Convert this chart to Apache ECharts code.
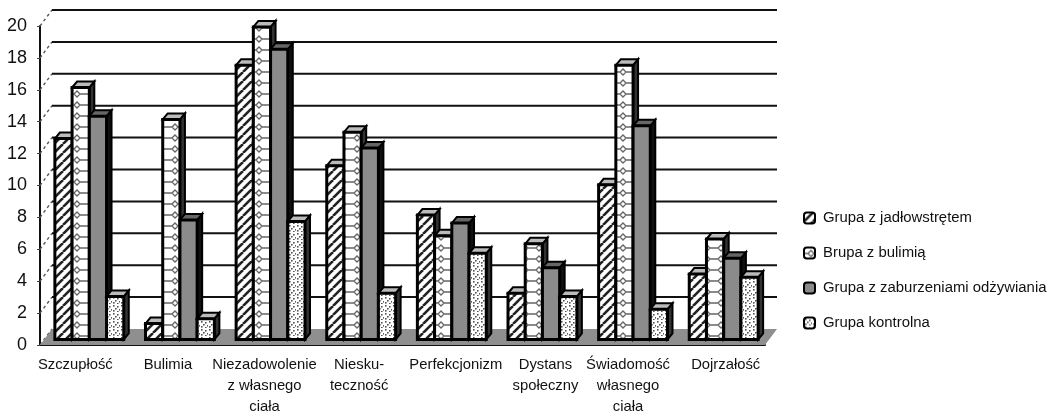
<!DOCTYPE html>
<html><head><meta charset="utf-8">
<style>html,body{margin:0;padding:0;background:#fff}#c{width:1054px;height:412px}</style>
<script src="https://cdn.jsdelivr.net/npm/echarts@6/dist/echarts.min.js"></script>
</head><body><div id="c"></div>
<script>
const categories = ['Szczupłość','Bulimia','Niezadowolenie\nz własnego\nciała','Niesku-\nteczność','Perfekcjonizm','Dystans\nspołeczny','Świadomość\nwłasnego\nciała','Dojrzałość'];
const labelShift = [-10,-8,-2,2,8,7,-1,6];
const seriesNames = ['Grupa z jadłowstrętem','Brupa z bulimią','Grupa z zaburzeniami odżywiania','Grupa kontrolna'];
const anorexia = [12.6,1.0,17.2,10.9,7.8,2.9,9.7,4.1];
const bulimia  = [15.8,13.8,19.6,13.0,6.5,6.0,17.2,6.3];
const eating   = [14.0,7.5,18.2,12.0,7.3,4.5,13.4,5.1];
const control  = [2.7,1.3,7.4,2.9,5.4,2.7,1.9,3.9];
const yTicks = [0,2,4,6,8,10,12,14,16,18,20];

function pat(w,h,draw){const c=document.createElement('canvas');c.width=w;c.height=h;const g=c.getContext('2d');g.fillStyle='#fff';g.fillRect(0,0,w,h);draw(g);return {image:c,repeat:'repeat'};}
const pStripe = pat(9,9,g=>{g.strokeStyle='#222';g.lineWidth=2.6;for(let i=-9;i<=18;i+=9){g.beginPath();g.moveTo(i,9);g.lineTo(i+9,0);g.stroke();}});
const pChain = pat(14,11,g=>{g.strokeStyle='#666';g.lineWidth=1.3;g.beginPath();g.moveTo(0,6);g.lineTo(4,6);g.lineTo(7,3);g.lineTo(10,6);g.lineTo(14,6);g.moveTo(4,6);g.lineTo(7,9);g.lineTo(10,6);g.stroke();});
const pDots = pat(8,8,g=>{g.fillStyle='#555';[[1,1],[5,2],[3,4],[7,5],[1,6],[5,7]].forEach(p=>g.fillRect(p[0],p[1],1.6,1.6));});
const fills = [pStripe,pChain,'#8b8b8b',pDots];
const DX=12, DY=-16, BX=4, BY=-5.5, BW=5, BH=-6;

function bar(k){return function(params,api){
  const i=api.value(0), v=api.value(1), band=api.size([1,0])[0];
  const w=band*0.19;
  const top=api.coord([i,v]), base=api.coord([i,0]);
  const x=top[0]+BX+(k-2)*w, y=top[1]+BY, b=base[1]+BY;
  return {type:'group',children:[
    {type:'polygon',shape:{points:[[x+w,y],[x+w+BW,y+BH],[x+w+BW,b+BH],[x+w,b]]},style:{fill:k===2?'#111':'#333',stroke:'#000',lineWidth:2}},
    {type:'polygon',shape:{points:[[x,y],[x+BW,y+BH],[x+w+BW,y+BH],[x+w,y]]},style:{fill:k===2?'#666':'#bbb',stroke:'#000',lineWidth:2}},
    {type:'rect',shape:{x:x,y:y,width:w,height:b-y},style:{fill:fills[k],stroke:'#000',lineWidth:3}}
  ]};
};}

const wall={type:'custom',name:'wall',silent:true,z:1,data:yTicks.map(v=>[v]),encode:{y:0},
  renderItem(params,api){
    const v=api.value(0), p=api.coord([0,v]), band=api.size([1,0])[0];
    const x0=p[0]-band/2, x1=x0+band*8;
    const kids=[{type:'line',shape:{x1:x0,y1:p[1],x2:x0+DX,y2:p[1]+DY},style:{stroke:'#555',lineWidth:1.4,lineDash:[3,3]}}];
    if(v===0){kids.push({type:'polygon',shape:{points:[[x0,p[1]],[x0+DX,p[1]+DY],[x1+DX,p[1]+DY],[x1,p[1]]]},style:{fill:'#8f8f8f'}});}
    else{kids.push({type:'line',shape:{x1:x0+DX,y1:p[1]+DY,x2:x1+DX,y2:p[1]+DY},style:{stroke:'#111',lineWidth:2}});}
    return {type:'group',children:kids};
  }};

const dataSets=[anorexia,bulimia,eating,control];
const series=[wall].concat(seriesNames.map((n,k)=>({
  type:'custom',name:n,z:2+k,renderItem:bar(k),encode:{x:0,y:1},
  data:dataSets[k].map((v,i)=>[i,v]),
  itemStyle:{color:fills[k],borderColor:'#000',borderWidth:2.5}
})));

const chart=echarts.init(document.getElementById('c'),null,{renderer:'canvas'});
chart.setOption({
  animation:false,backgroundColor:'#fff',
  textStyle:{fontFamily:'"Liberation Sans",Arial,sans-serif'},
  grid:{left:40,right:289,top:26,bottom:67,outerBoundsMode:'none'},
  legend:{data:seriesNames,orient:'vertical',left:798,top:205,itemWidth:11,itemHeight:11,itemGap:19,
    textStyle:{fontSize:14.9,color:'#111',padding:[0,0,0,3],lineHeight:16}},
  xAxis:{type:'category',data:categories.map((c,i)=>({value:c,textStyle:{padding:labelShift[i]<0?[0,-2*labelShift[i],0,0]:[0,0,0,2*labelShift[i]]}})),
    axisLine:{onZero:false,lineStyle:{color:'#111',width:2}},axisTick:{show:false},
    axisLabel:{interval:0,margin:9,fontSize:14.8,color:'#111',lineHeight:21}},
  yAxis:{type:'value',min:0,max:20,interval:2,splitLine:{show:false},
    axisLine:{show:true,lineStyle:{color:'#111',width:2}},axisTick:{show:true,length:3,lineStyle:{color:'#444'}},
    axisLabel:{fontSize:18,color:'#111',margin:13}},
  series
});
</script></body></html>
